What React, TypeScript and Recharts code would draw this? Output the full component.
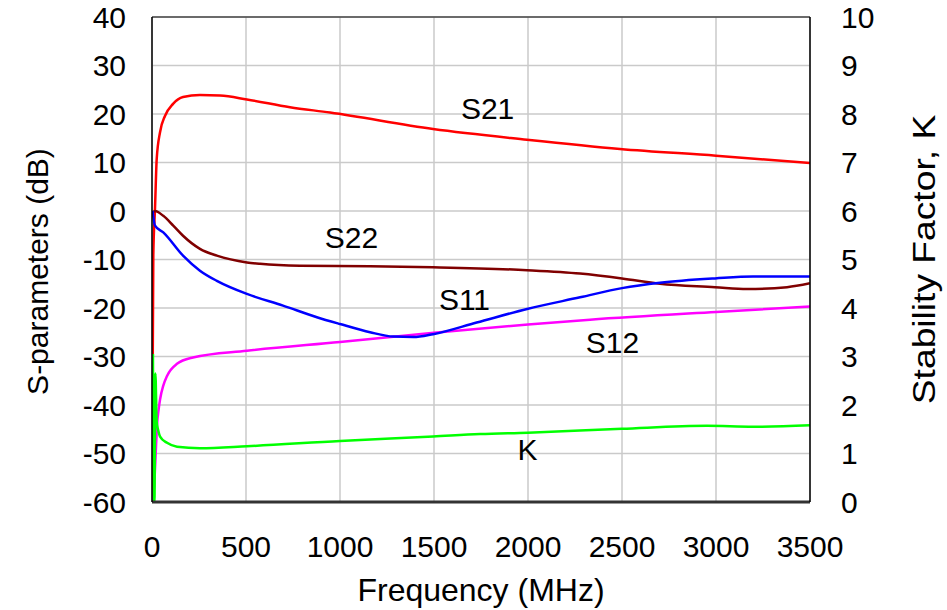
import React from 'react';
import { LineChart, Line, XAxis, YAxis, CartesianGrid, ReferenceLine, ReferenceDot, Label } from 'recharts';

const FONT = '"Liberation Sans", Arial, Helvetica, sans-serif';

const xTicks = [0, 500, 1000, 1500, 2000, 2500, 3000, 3500];
const sTicks = [-60, -50, -40, -30, -20, -10, 0, 10, 20, 30, 40];
const kTicks = [0, 1, 2, 3, 4, 5, 6, 7, 8, 9, 10];

const s21Freq = [2, 4, 7, 16, 25, 43, 69, 112, 165, 255, 362, 505, 734, 947, 1495, 1995, 2489, 3000, 3500];
const s21Db = [-60, -30, -9, 0.5, 10.7, 16.3, 19.6, 22.1, 23.5, 23.9, 23.8, 23.0, 21.4, 20.3, 16.9, 14.7, 12.8, 11.4, 9.9];

const s22Freq = [4, 16, 60, 113, 165, 255, 345, 505, 575, 787, 1160, 1495, 1995, 2277, 2500, 2702, 2995, 3165, 3378, 3500];
const s22Db = [-0.4, 0.0, -1.0, -3.0, -5.1, -7.8, -9.2, -10.6, -10.9, -11.3, -11.4, -11.6, -12.2, -12.9, -13.9, -15.0, -15.7, -16.1, -15.7, -14.9];

const s11Freq = [3, 16, 60, 165, 255, 345, 505, 697, 877, 1000, 1160, 1284, 1390, 1495, 1727, 1995, 2277, 2500, 2702, 2995, 3197, 3500];
const s11Db = [0, -3, -4.4, -9.2, -12.3, -14.4, -17.1, -19.5, -21.9, -23.3, -25.0, -25.9, -26.0, -25.4, -23.0, -20.2, -17.8, -15.9, -14.8, -13.9, -13.5, -13.5];

const s12Freq = [5, 15, 22, 27, 35, 43, 60, 80, 133, 218, 505, 1000, 1500, 2000, 2330, 3000, 3500];
const s12Db = [-60, -54, -48, -44, -41, -38.8, -36, -34, -31.5, -30.2, -28.8, -27.0, -25.1, -23.4, -22.4, -20.8, -19.7];

const kFreq = [5, 10, 13, 18, 25, 33, 43, 80, 133, 255, 505, 1000, 1495, 1745, 2000, 2500, 2952, 3197, 3500];
const kValues = [3.05, 0.0, 0.0, 2.65, 1.65, 1.48, 1.35, 1.22, 1.14, 1.11, 1.15, 1.26, 1.35, 1.4, 1.43, 1.51, 1.57, 1.55, 1.58];

const labelNames = ['S21', 'S22', 'S11', 'S12', 'K'];
const labelFreq = [1785, 1061, 1662, 2449, 1997];
const labelDb = [21.2, -5.5, -18.2, -27.0, -49.1];

const zip = (f: number[], v: number[]) => f.map((x, i) => ({ f: x, v: v[i] }));

const s21Data = zip(s21Freq, s21Db);
const s22Data = zip(s22Freq, s22Db);
const s11Data = zip(s11Freq, s11Db);
const s12Data = zip(s12Freq, s12Db);
const kData = zip(kFreq, kValues);

const LeftTick = (props: any) => {
  const { x, y, payload } = props;
  return (
    <text x={x - 26} y={y} dy="0.355em" textAnchor="end" fontSize={30} fontFamily={FONT} fill="#000">
      {payload.value}
    </text>
  );
};

const RightTick = (props: any) => {
  const { x, y, payload } = props;
  return (
    <text x={x + 31} y={y} dy="0.355em" textAnchor="start" fontSize={30} fontFamily={FONT} fill="#000">
      {payload.value}
    </text>
  );
};

const BottomTick = (props: any) => {
  const { x, y, payload } = props;
  return (
    <text x={x} y={y + 55} textAnchor="middle" fontSize={30} fontFamily={FONT} fill="#000">
      {payload.value}
    </text>
  );
};

const XTitle = (props: any) => {
  const vb = props.viewBox || { x: 152, y: 502, width: 658, height: 108 };
  const cx = vb.x + vb.width / 2;
  return (
    <text x={cx} y={vb.y + 99} textAnchor="middle" fontSize={32} fontFamily={FONT} fill="#000">
      Frequency (MHz)
    </text>
  );
};

const LeftTitle = (props: any) => {
  const vb = props.viewBox || { x: 0, y: 17, width: 152, height: 485 };
  const bx = vb.x + 48;
  const cy = vb.y + vb.height / 2 + 12;
  return (
    <text x={bx} y={cy} transform={`rotate(-90, ${bx}, ${cy})`} textAnchor="middle" fontSize={30} fontFamily={FONT} fill="#000">
      S-parameters (dB)
    </text>
  );
};

const RightTitle = (props: any) => {
  const vb = props.viewBox || { x: 810, y: 17, width: 137, height: 485 };
  const bx = vb.x + 125;
  const cy = vb.y + vb.height / 2;
  return (
    <g transform={`translate(${bx}, ${cy}) rotate(-90) scale(1.2, 1)`}>
      <text x={0} y={0} textAnchor="middle" fontSize={31} fontFamily={FONT} fill="#000">
        Stability Factor, K
      </text>
    </g>
  );
};

export default function App() {
  return (
    <div style={{ position: 'absolute', left: 0, top: 0, background: '#fff' }}>
      <LineChart width={947} height={610} margin={{ top: 17, right: 0, bottom: 0, left: 0 }}>
        <CartesianGrid yAxisId="left" stroke="#CACACA" strokeWidth={1.5} />
        <XAxis
          dataKey="f"
          type="number"
          domain={[0, 3500]}
          ticks={xTicks}
          allowDataOverflow
          height={108}
          tickLine={false}
          tickSize={0}
          tickMargin={0}
          axisLine={{ stroke: '#333', strokeWidth: 3 }}
          tick={<BottomTick />}
        >
          <Label content={<XTitle />} />
        </XAxis>
        <YAxis
          yAxisId="left"
          orientation="left"
          type="number"
          domain={[-60, 40]}
          ticks={sTicks}
          allowDataOverflow
          width={152}
          tickLine={false}
          tickSize={0}
          tickMargin={0}
          axisLine={{ stroke: '#000', strokeWidth: 1.5 }}
          tick={<LeftTick />}
        >
          <Label content={<LeftTitle />} />
        </YAxis>
        <YAxis
          yAxisId="right"
          orientation="right"
          type="number"
          domain={[0, 10]}
          ticks={kTicks}
          allowDataOverflow
          width={137}
          tickLine={false}
          tickSize={0}
          tickMargin={0}
          axisLine={{ stroke: '#000', strokeWidth: 1.5 }}
          tick={<RightTick />}
        >
          <Label content={<RightTitle />} />
        </YAxis>
        <ReferenceLine yAxisId="left" y={40} stroke="#000" strokeWidth={1.2} />
        <Line data={s21Data} dataKey="v" yAxisId="left" type="monotone" stroke="#FF0000" strokeWidth={2.5} dot={false} isAnimationActive={false} />
        <Line data={s22Data} dataKey="v" yAxisId="left" type="monotone" stroke="#800000" strokeWidth={2.5} dot={false} isAnimationActive={false} />
        <Line data={s12Data} dataKey="v" yAxisId="left" type="monotone" stroke="#FF00FF" strokeWidth={2.5} dot={false} isAnimationActive={false} />
        <Line data={s11Data} dataKey="v" yAxisId="left" type="monotone" stroke="#0000FF" strokeWidth={2.5} dot={false} isAnimationActive={false} />
        <Line data={kData} dataKey="v" yAxisId="right" type="monotone" stroke="#00FF00" strokeWidth={2.5} dot={false} isAnimationActive={false} />
        {labelNames.map((name, i) => (
          <ReferenceDot
            key={name}
            yAxisId="left"
            x={labelFreq[i]}
            y={labelDb[i]}
            r={0}
            fill="none"
            stroke="none"
            label={{ value: name, position: 'center', fontSize: 30, fontFamily: FONT, fill: '#000' }}
          />
        ))}
      </LineChart>
    </div>
  );
}
